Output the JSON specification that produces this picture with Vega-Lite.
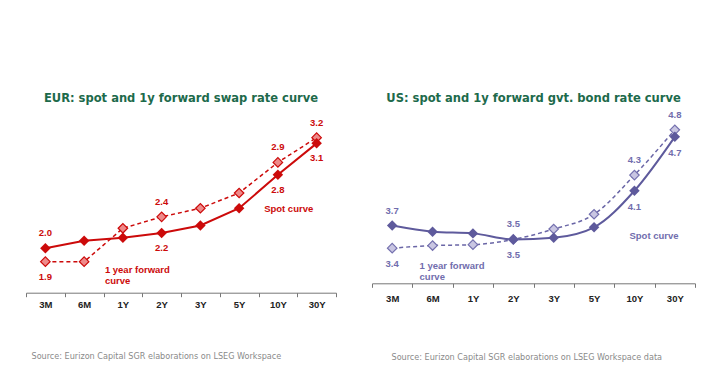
{
  "$schema": "https://vega.github.io/schema/vega-lite/v6.json",
  "background": "white",
  "padding": {"left": 25, "top": 92, "right": 5, "bottom": 5},
  "config": {
    "view": {"stroke": null},
    "font": "Liberation Sans",
    "concat": {"spacing": 34},
    "axisX": {
      "labelFont": "Liberation Sans", "labelFontWeight": "bold", "labelFontSize": 9.5, "labelColor": "#222",
      "labelAngle": 0, "domainColor": "#777", "tickColor": "#777", "tickSize": 4, "tickBand": "extent",
      "grid": false, "titleFont": "DejaVu Sans Condensed, Liberation Sans", "titleFontSize": 9, "titleFontWeight": "normal",
      "titleColor": "#8a8a8a", "titleAnchor": "start", "titleAlign": "left", "titleBaseline": "middle"
    },
    "title": {"font": "DejaVu Sans Condensed, Liberation Sans", "fontSize": 12.8, "fontWeight": "bold", "color": "#1D6A4B", "anchor": "middle", "offset": 4}
  },
  "hconcat": [
    {
      "width": 310,
      "height": 183.7,
      "title": "EUR: spot and 1y forward swap rate curve",
      "data": {"values": [
        {"tenor": "3M", "series": "Spot", "value": 2.03},
        {"tenor": "6M", "series": "Spot", "value": 2.11},
        {"tenor": "1Y", "series": "Spot", "value": 2.14},
        {"tenor": "2Y", "series": "Spot", "value": 2.19},
        {"tenor": "3Y", "series": "Spot", "value": 2.27},
        {"tenor": "5Y", "series": "Spot", "value": 2.45},
        {"tenor": "10Y", "series": "Spot", "value": 2.80},
        {"tenor": "30Y", "series": "Spot", "value": 3.13},
        {"tenor": "3M", "series": "Forward", "value": 1.89},
        {"tenor": "6M", "series": "Forward", "value": 1.89},
        {"tenor": "1Y", "series": "Forward", "value": 2.24},
        {"tenor": "2Y", "series": "Forward", "value": 2.36},
        {"tenor": "3Y", "series": "Forward", "value": 2.45},
        {"tenor": "5Y", "series": "Forward", "value": 2.61},
        {"tenor": "10Y", "series": "Forward", "value": 2.93},
        {"tenor": "30Y", "series": "Forward", "value": 3.19}
      ]},
      "encoding": {
        "x": {"field": "tenor", "type": "ordinal", "bandPosition": 0.5,
          "sort": ["3M", "6M", "1Y", "2Y", "3Y", "5Y", "10Y", "30Y"],
          "scale": {"type": "band", "paddingInner": 0, "paddingOuter": 0},
          "axis": {"title": "Source: Eurizon Capital SGR elaborations on LSEG Workspace", "labelPadding": 3, "titleX": 5, "titleY": 63}},
        "y": {"field": "value", "type": "quantitative", "scale": {"domain": [1.565, 3.49], "nice": false, "zero": false}, "axis": null}
      },
      "layer": [
        {"transform": [{"filter": "datum.series == 'Forward'"}],
         "mark": {"type": "line", "color": "#CC0A0A", "strokeWidth": 1.5, "strokeDash": [4, 3]}},
        {"transform": [{"filter": "datum.series == 'Spot'"}],
         "mark": {"type": "line", "color": "#CC0A0A", "strokeWidth": 2}},
        {"transform": [{"filter": "datum.series == 'Forward'"}],
         "mark": {"type": "point", "shape": "diamond", "size": 90, "filled": true, "fill": "#EE8A8A", "stroke": "#CC0A0A", "strokeWidth": 1.2, "opacity": 1}},
        {"transform": [{"filter": "datum.series == 'Spot'"}],
         "mark": {"type": "point", "shape": "diamond", "size": 110, "filled": true, "color": "#CC0A0A", "opacity": 1}},
        {"transform": [{"filter": "indexof(['3M','2Y','10Y','30Y'], datum.tenor) >= 0 && ((datum.series == 'Spot' && datum.tenor == '3M') || (datum.series == 'Forward' && datum.tenor != '3M'))"}],
         "mark": {"type": "text", "dy": -15, "fontWeight": "bold", "fontSize": 9.5, "color": "#CC0A0A", "baseline": "middle"},
         "encoding": {"text": {"field": "value", "type": "quantitative", "format": ".1f"}}},
        {"transform": [{"filter": "indexof(['3M','2Y','10Y','30Y'], datum.tenor) >= 0 && !((datum.series == 'Spot' && datum.tenor == '3M') || (datum.series == 'Forward' && datum.tenor != '3M'))"}],
         "mark": {"type": "text", "dy": 15, "fontWeight": "bold", "fontSize": 9.5, "color": "#CC0A0A", "baseline": "middle"},
         "encoding": {"text": {"field": "value", "type": "quantitative", "format": ".1f"}}},
        {"data": {"values": [
          {"tenor": "5Y", "value": 2.445, "note": "Spot curve"}
        ]},
         "mark": {"type": "text", "align": "left", "dx": 25, "baseline": "middle", "fontWeight": "bold", "fontSize": 9.5, "color": "#CC0A0A", "lineBreak": "\n", "lineHeight": 11},
         "encoding": {"text": {"field": "note"}}},
        {"data": {"values": [
          {"tenor": "1Y", "value": 1.806, "note": "1 year forward\ncurve"}
        ]},
         "mark": {"type": "text", "align": "left", "dx": -18, "baseline": "middle", "fontWeight": "bold", "fontSize": 9.5, "color": "#CC0A0A", "lineBreak": "\n", "lineHeight": 11},
         "encoding": {"text": {"field": "note"}}}
      ]
    },
    {
      "width": 323,
      "height": 174.3,
      "title": "US: spot and 1y forward gvt. bond rate curve",
      "data": {"values": [
        {"tenor": "3M", "series": "Spot", "value": 3.69},
        {"tenor": "6M", "series": "Spot", "value": 3.62},
        {"tenor": "1Y", "series": "Spot", "value": 3.60},
        {"tenor": "2Y", "series": "Spot", "value": 3.53},
        {"tenor": "3Y", "series": "Spot", "value": 3.55},
        {"tenor": "5Y", "series": "Spot", "value": 3.67},
        {"tenor": "10Y", "series": "Spot", "value": 4.09},
        {"tenor": "30Y", "series": "Spot", "value": 4.71},
        {"tenor": "3M", "series": "Forward", "value": 3.43},
        {"tenor": "6M", "series": "Forward", "value": 3.46},
        {"tenor": "1Y", "series": "Forward", "value": 3.47},
        {"tenor": "2Y", "series": "Forward", "value": 3.53},
        {"tenor": "3Y", "series": "Forward", "value": 3.65},
        {"tenor": "5Y", "series": "Forward", "value": 3.82},
        {"tenor": "10Y", "series": "Forward", "value": 4.27},
        {"tenor": "30Y", "series": "Forward", "value": 4.79}
      ]},
      "encoding": {
        "x": {"field": "tenor", "type": "ordinal", "bandPosition": 0.5,
          "sort": ["3M", "6M", "1Y", "2Y", "3Y", "5Y", "10Y", "30Y"],
          "scale": {"type": "band", "paddingInner": 0, "paddingOuter": 0},
          "axis": {"title": "Source: Eurizon Capital SGR elaborations on LSEG Workspace data", "labelPadding": 6, "titleX": 19, "titleY": 73}},
        "y": {"field": "value", "type": "quantitative", "scale": {"domain": [3.026, 5.03], "nice": false, "zero": false}, "axis": null}
      },
      "layer": [
        {"transform": [{"filter": "datum.series == 'Forward'"}],
         "mark": {"type": "line", "color": "#6A66A6", "strokeWidth": 1.5, "strokeDash": [4, 3], "interpolate": "monotone"}},
        {"transform": [{"filter": "datum.series == 'Spot'"}],
         "mark": {"type": "line", "color": "#5E5A9C", "strokeWidth": 2, "interpolate": "monotone"}},
        {"transform": [{"filter": "datum.series == 'Forward'"}],
         "mark": {"type": "point", "shape": "diamond", "size": 90, "filled": true, "fill": "#C9C6E2", "stroke": "#7470AE", "strokeWidth": 1.2, "opacity": 1}},
        {"transform": [{"filter": "datum.series == 'Spot'"}],
         "mark": {"type": "point", "shape": "diamond", "size": 110, "filled": true, "color": "#5E5A9C", "opacity": 1}},
        {"transform": [{"filter": "indexof(['3M','2Y','10Y','30Y'], datum.tenor) >= 0 && ((datum.series == 'Spot' && datum.tenor == '3M') || (datum.series == 'Forward' && datum.tenor != '3M'))"}],
         "mark": {"type": "text", "dy": -15, "fontWeight": "bold", "fontSize": 9.5, "color": "#716DAD", "baseline": "middle"},
         "encoding": {"text": {"field": "value", "type": "quantitative", "format": ".1f"}}},
        {"transform": [{"filter": "indexof(['3M','2Y','10Y','30Y'], datum.tenor) >= 0 && !((datum.series == 'Spot' && datum.tenor == '3M') || (datum.series == 'Forward' && datum.tenor != '3M'))"}],
         "mark": {"type": "text", "dy": 16, "fontWeight": "bold", "fontSize": 9.5, "color": "#716DAD", "baseline": "middle"},
         "encoding": {"text": {"field": "value", "type": "quantitative", "format": ".1f"}}},
        {"data": {"values": [
          {"tenor": "10Y", "value": 3.57, "note": "Spot curve"}
        ]},
         "mark": {"type": "text", "align": "left", "dx": -5, "baseline": "middle", "fontWeight": "bold", "fontSize": 9.5, "color": "#716DAD", "lineBreak": "\n", "lineHeight": 11},
         "encoding": {"text": {"field": "note"}}},
        {"data": {"values": [
          {"tenor": "6M", "value": 3.22, "note": "1 year forward\ncurve"}
        ]},
         "mark": {"type": "text", "align": "left", "dx": -13, "baseline": "middle", "fontWeight": "bold", "fontSize": 9.5, "color": "#716DAD", "lineBreak": "\n", "lineHeight": 11},
         "encoding": {"text": {"field": "note"}}}
      ]
    }
  ]
}
